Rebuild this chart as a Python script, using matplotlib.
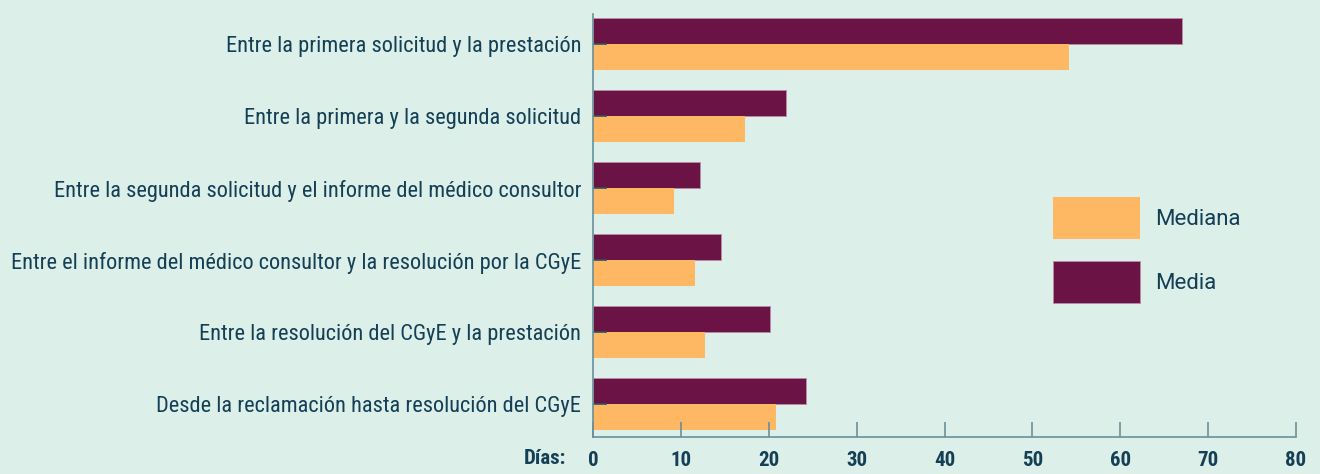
import numpy as np
import matplotlib
matplotlib.use("Agg")
import matplotlib.pyplot as plt
from matplotlib import font_manager
from matplotlib.patches import Patch

categories = [
    "Entre la primera solicitud y la prestación",
    "Entre la primera y la segunda solicitud",
    "Entre la segunda solicitud y el informe del médico consultor",
    "Entre el informe del médico consultor y la resolución por la CGyE",
    "Entre la resolución del CGyE y la prestación",
    "Desde la reclamación hasta resolución del CGyE",
]
media = [67.0, 22.0, 12.2, 14.6, 20.1, 24.2]
mediana = [54.2, 17.3, 9.2, 11.6, 12.8, 20.8]
xticks = [0, 10, 20, 30, 40, 50, 60, 70, 80]

bg = "#dcefe9"
text_col = "#143f55"
c_media = "#6c1346"
c_mediana = "#feb863"

# pick a narrow font if there is one
installed = {f.name for f in font_manager.fontManager.ttflist}
narrow = "DejaVu Sans"
for name in ["Roboto Condensed", "Liberation Sans Narrow", "Open Sans Condensed", "DejaVu Sans"]:
    if name in installed:
        narrow = name
        break

fig = plt.figure(figsize=(13.2, 4.74), dpi=100, facecolor=bg)
ax = fig.add_axes([593 / 1320, 1 - 437 / 474, 703 / 1320, 423 / 474])
ax.set_facecolor(bg)

y = np.arange(len(categories))
h = 0.361
ax.barh(y - h / 2, media, height=h, color=c_media, edgecolor="#b98aa6", linewidth=0.6, label="Media")
ax.barh(y + h / 2, mediana, height=h, color=c_mediana, linewidth=0, label="Mediana")

ax.set_xlim(0, 80)
ax.set_ylim(len(categories) - 1 + 0.458, -0.417)
ax.set_xticks(xticks)
ax.set_yticks(y)
ax.set_yticklabels(categories, fontfamily=narrow, fontsize=16.1, color=text_col)
ax.set_xticklabels([str(t) for t in xticks], fontfamily=narrow, fontweight="bold",
                   fontsize=15, color=text_col)

for s in ["top", "right"]:
    ax.spines[s].set_visible(False)
for s in ["left", "bottom"]:
    ax.spines[s].set_color("#6b8f99")
    ax.spines[s].set_linewidth(1.2)

ax.tick_params(axis="x", direction="in", length=11, width=1.2, color="#6b8f99", pad=10)
ax.tick_params(axis="y", direction="in", length=10, width=1.2, color="#2f5560", pad=8.5)

fig.text(566 / 1320, 1 - 458 / 474, "Días:", ha="right", va="center",
         fontfamily=narrow, fontweight="bold", fontsize=15, color=text_col)

handles = [Patch(facecolor=c_mediana, edgecolor="none"),
           Patch(facecolor=c_media, edgecolor="#b98aa6", linewidth=0.6)]
leg = fig.legend(handles, ["Mediana", "Media"], loc="upper left",
                 bbox_to_anchor=(1053 / 1320, 1 - 197 / 474), frameon=False,
                 borderpad=0, borderaxespad=0, handlelength=3.9, handleheight=2.52,
                 handletextpad=0.68, labelspacing=1.0,
                 prop={"family": "Roboto", "size": 16})
for t in leg.get_texts():
    t.set_color(text_col)

fig.savefig("out.png", dpi=100, facecolor=bg)
